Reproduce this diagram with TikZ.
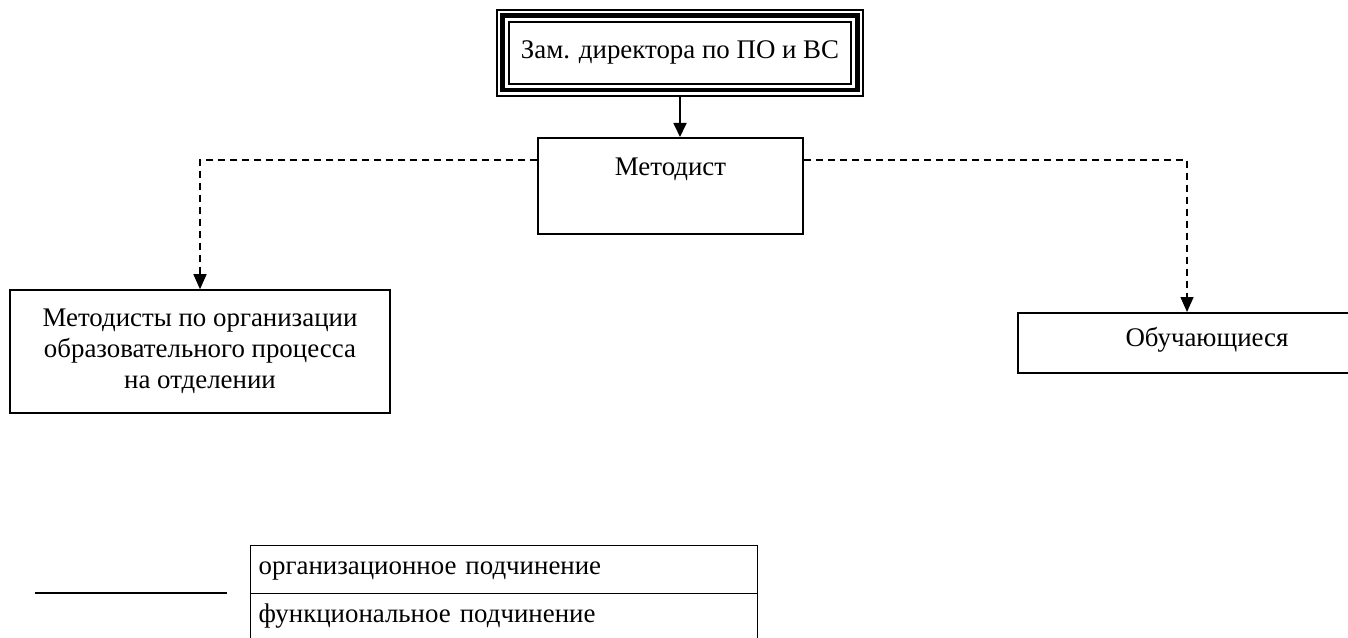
\documentclass[tikz,border=0pt]{standalone}
\usepackage{fontspec}
\setmainfont{Liberation Serif}
\usetikzlibrary{arrows.meta}

\begin{document}
\begin{tikzpicture}[x=0.02cm,y=-0.02cm,
  every node/.style={font=\fontsize{15.3}{17.6}\selectfont},
  box/.style={draw,line width=0.9pt,inner sep=0pt,align=center},
  lbox/.style={draw,line width=0.8pt,inner xsep=0.16cm,inner ysep=0pt,text width=9.82cm,align=left,text height=0.58cm,text depth=0.38cm},
  org/.style={line width=1pt,-{Triangle[length=0.28cm,width=0.26cm]}},
  func/.style={line width=0.8pt,dash pattern=on 0.14cm off 0.1cm,-{Triangle[length=0.3cm,width=0.26cm]}}]
  \useasboundingbox (0,0) rectangle (1348,638);

  % top box with triple border
  \node[box,line width=1.1pt,minimum width=7.32cm,minimum height=1.72cm] (zam) at (680,52.7) {Зам. директора по ПО и ВС};
  \draw[line width=2.6pt] ([shift={(6.5,6.5)}]zam.north west) rectangle ([shift={(-6.5,-6.5)}]zam.south east);
  \draw[line width=1.1pt] ([shift={(13,13)}]zam.north west) rectangle ([shift={(-13,-13)}]zam.south east);

  \node[box,minimum width=5.3cm,text height=0.76cm,text depth=1.16cm,anchor=north] (met) at (670.5,137) {Методист};
  \node[box,minimum width=7.6cm,minimum height=2.46cm] (metod) at (200,351.5) {Методисты по организации\\образовательного процесса\\на отделении};
  \node[box,minimum width=7.56cm,text height=0.68cm,text depth=0.52cm,anchor=north] (obuch) at (1207,312) {Обучающиеся};

  \draw[org] (zam.south) -- (zam.south |- met.north);
  \draw[func] (met.north west) ++(0,23) -| (metod.north);
  \draw[func] (met.north east) ++(0,23) -| ([xshift=-0.4cm]obuch.north);

  % legend
  \coordinate (lga) at (35,593);
  \coordinate (lgb) at (227,593);
  \draw[line width=1.2pt] (lga) -- (lgb);
  \node[lbox,anchor=north west] (leg1) at (250,545) {организационное подчинение};
  \node[lbox,anchor=north west] (leg2) at (250,593) {функциональное подчинение};
\end{tikzpicture}
\end{document}
